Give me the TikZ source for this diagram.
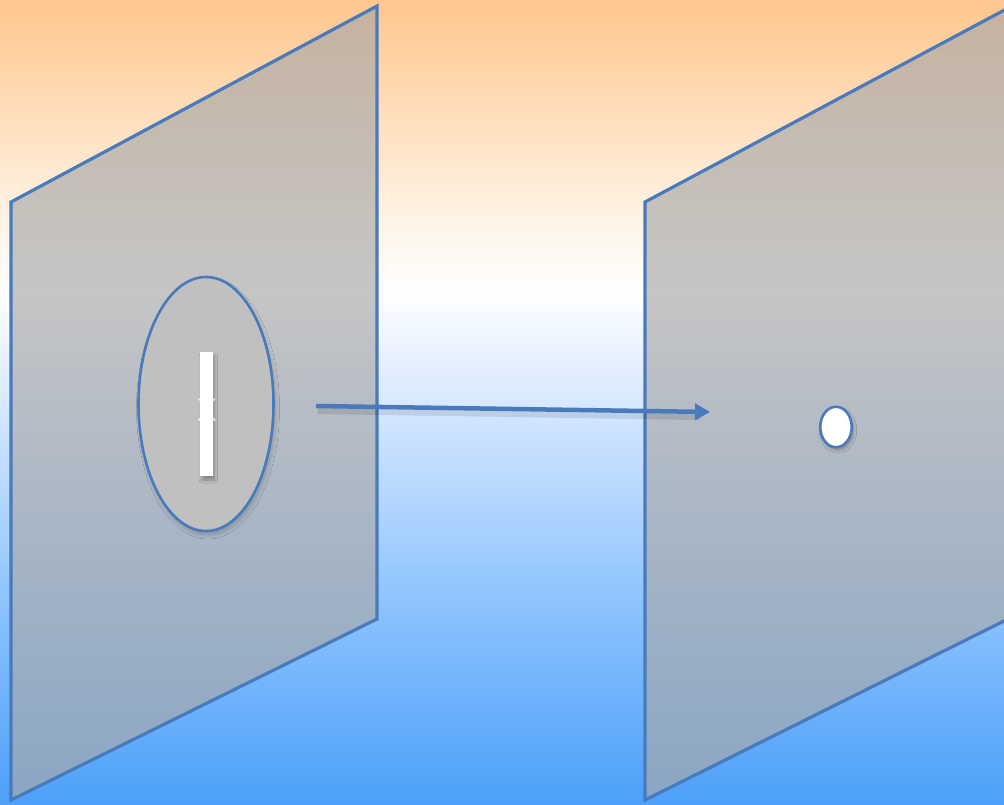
\documentclass[tikz,border=0pt]{standalone}
\usetikzlibrary{arrows.meta,shapes.geometric,shadows.blur}
\definecolor{lineblue}{RGB}{72,122,188}
\definecolor{bgtop}{RGB}{255,198,142}
\definecolor{bgup}{RGB}{255,218,180}
\definecolor{bgup2}{RGB}{255,240,222}
\definecolor{bgpale}{RGB}{215,232,255}
\definecolor{bgmid}{RGB}{140,195,253}
\definecolor{bgbot}{RGB}{76,160,250}
\definecolor{planegray}{RGB}{169,169,169}
\definecolor{lensgray}{RGB}{192,192,192}
\pgfdeclareverticalshading{bgshade}{100bp}{color(0bp)=(bgbot); color(25bp)=(bgbot); color(37.5bp)=(bgmid); color(50bp)=(bgpale); color(57bp)=(white); color(62.5bp)=(bgup2); color(69bp)=(bgup); color(75bp)=(bgtop); color(100bp)=(bgtop)}
\tikzset{
  plane/.style={draw=lineblue, line width=3.2pt, line join=miter, fill=planegray, fill opacity=0.67},
  lens/.style={ellipse, draw=lineblue, line width=2.6pt, fill=lensgray, inner sep=0pt,
     blur shadow={shadow xshift=2pt, shadow yshift=-4pt, shadow opacity=20, shadow blur steps=8, shadow blur radius=4pt}},
  slit/.style={rectangle, fill=white, inner sep=0pt,
     blur shadow={shadow xshift=2pt, shadow yshift=-4pt, shadow opacity=30, shadow blur steps=8, shadow blur radius=3pt}},
  spot/.style={ellipse, draw=lineblue, line width=2.6pt, fill=white, inner sep=0pt,
     blur shadow={shadow xshift=2pt, shadow yshift=-3pt, shadow opacity=25, shadow blur steps=6, shadow blur radius=3pt}},
  ray/.style={draw=lineblue, line width=4.5pt, -{Triangle[length=15pt,width=16pt]}},
  rayshadow/.style={draw=black, opacity=0.1, line width=6pt}
}
\begin{document}
\begin{tikzpicture}[x=1pt,y=-1pt]
\useasboundingbox (0,0) rectangle (1004,805);
\clip (0,0) rectangle (1004,805);
\path[shading=bgshade] (0,0) rectangle (1004,805);
% left plane
\path[plane] (11,202) coordinate (L1) -- (377,6) coordinate (L2) -- (377,619) coordinate (L3) -- (11,800) coordinate (L4) -- cycle;
% right plane
\path[plane] (645,202) coordinate (R1) -- (1012,6) coordinate (R2) -- (1012,617) coordinate (R3) -- (645,800) coordinate (R4) -- cycle;
% lens
\node[lens, minimum width=135pt, minimum height=254pt] (lens) at (206,404) {};
\node[slit, minimum width=12.5pt, minimum height=124pt] (slit) at (206.3,414) {};
\fill[white, opacity=0.75] (197.5,398.5) coordinate (t1) -- (216,398.5) coordinate (t2) -- (206.7,408) coordinate (t3) -- cycle;
\fill[white, opacity=0.75] (197.5,420.5) coordinate (b1) -- (216,420.5) coordinate (b2) -- (206.7,410) coordinate (b3) -- cycle;
% ray
\coordinate (a0) at (316,406);
\coordinate (a1) at (710,412);
\coordinate (s0) at (318,411);
\coordinate (s1) at (700,417);
\draw[rayshadow] (s0) -- (s1);
\draw[ray] (a0) -- (a1);
% spot
\node[spot, minimum width=31.5pt, minimum height=40.5pt] (spot) at (836,427) {};
\end{tikzpicture}
\end{document}
